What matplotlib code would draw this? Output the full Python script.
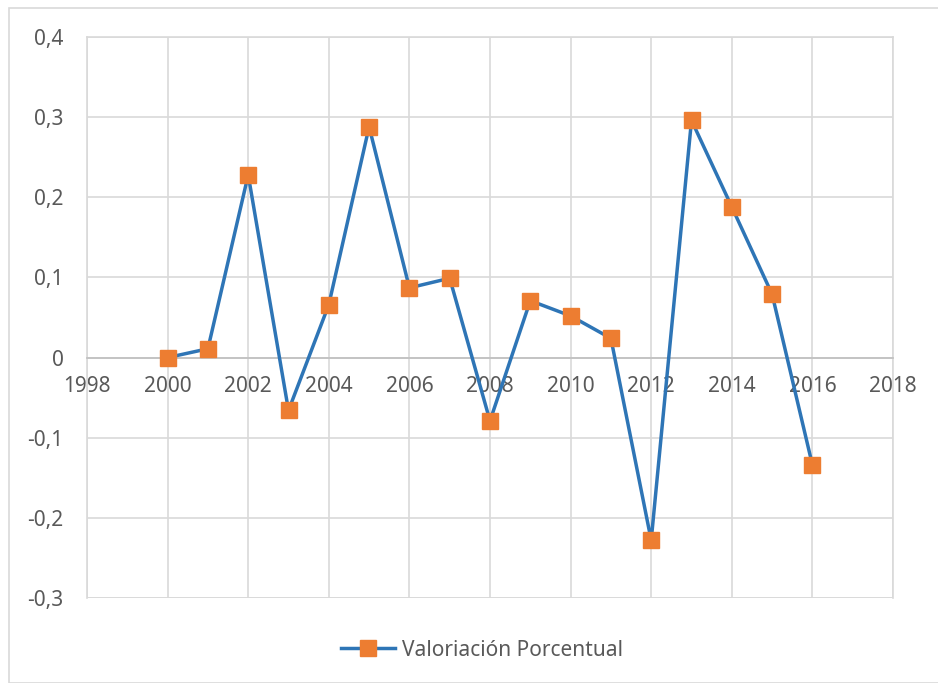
import matplotlib.pyplot as plt
from matplotlib.patches import Rectangle
from matplotlib.ticker import FuncFormatter

years = [2000, 2001, 2002, 2003, 2004, 2005, 2006, 2007, 2008,
         2009, 2010, 2011, 2012, 2013, 2014, 2015, 2016]
valoracion = [0.0, 0.011, 0.228, -0.066, 0.066, 0.288, 0.087, 0.099, -0.079,
              0.071, 0.052, 0.024, -0.228, 0.296, 0.188, 0.079, -0.134]
x_ticks = [1998, 2000, 2002, 2004, 2006, 2008, 2010, 2012, 2014, 2016, 2018]
y_ticks = [-0.3, -0.2, -0.1, 0, 0.1, 0.2, 0.3, 0.4]

plt.rcParams['font.family'] = ['Noto Sans', 'DejaVu Sans']
text_color = '#595959'
grid_color = '#d9d9d9'

fig = plt.figure(figsize=(9.38, 6.83), dpi=100)
# outer chart frame
fig.patches.append(Rectangle((9 / 938, 0), 1.0, 1 - 8 / 683, transform=fig.transFigure,
                             fill=False, edgecolor=grid_color, linewidth=1.2))

ax = fig.add_axes([87 / 938, 1 - 598 / 683, (893 - 87) / 938, (598 - 37) / 683])
ax.plot(years, valoracion, color='#2E75B6', linewidth=2.5, marker='s',
        markersize=11, markerfacecolor='#ED7D31', markeredgecolor='#ED7D31',
        label='Valoriación Porcentual', zorder=3)

ax.set_xlim(1998, 2018)
ax.set_ylim(-0.3, 0.4)
ax.set_xticks(x_ticks)
ax.set_yticks(y_ticks)
ax.yaxis.set_major_formatter(FuncFormatter(lambda v, p: ('%g' % round(v, 1)).replace('.', ',')))

ax.grid(True, color=grid_color, linewidth=1.2)
ax.set_axisbelow(True)
for side in ['top', 'right', 'left']:
    ax.spines[side].set_color(grid_color)
    ax.spines[side].set_linewidth(1.2)
# x axis crosses at zero
ax.spines['bottom'].set_position(('data', 0))
ax.spines['bottom'].set_color('#bfbfbf')
ax.spines['bottom'].set_linewidth(1.2)

ax.tick_params(axis='both', length=0, labelsize=15, colors=text_color)
ax.tick_params(axis='y', pad=17)
ax.tick_params(axis='x', pad=13)

# close the box at the bottom of the plot area
ax.axhline(-0.3, color=grid_color, linewidth=1.2, zorder=0)

fig.legend(loc='center', bbox_to_anchor=(482 / 938, 1 - 650 / 683), frameon=False,
           fontsize=15, labelcolor=text_color, handlelength=2.6, handletextpad=0.3)

fig.savefig('out.png', dpi=100)
